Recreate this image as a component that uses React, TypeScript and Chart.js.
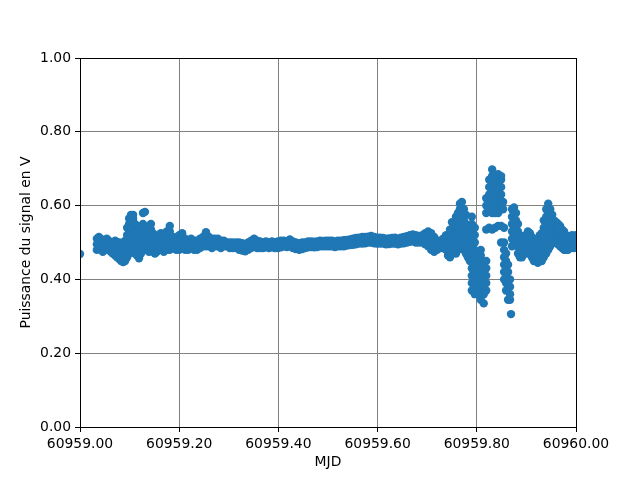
import { useEffect, useRef } from "react";
import { Chart, registerables } from "chart.js";

Chart.register(...registerables);

const xTicks = [60959.0, 60959.2, 60959.4, 60959.6, 60959.8, 60960.0];
const yTicks = [0, 0.2, 0.4, 0.6, 0.8, 1.0];

// Early part of the night: sample times (MJD) and the readings (V) at each
const mjdEarly = [
  60959.000, 60959.034, 60959.038, 60959.042, 60959.046, 60959.050, 60959.054, 60959.058,
  60959.062, 60959.066, 60959.071, 60959.075, 60959.079, 60959.083, 60959.087, 60959.091,
  60959.095, 60959.099, 60959.103, 60959.107, 60959.111, 60959.115, 60959.119, 60959.123,
  60959.127, 60959.131, 60959.135, 60959.139, 60959.143, 60959.147, 60959.151, 60959.155,
  60959.159, 60959.163, 60959.169, 60959.175, 60959.181, 60959.188, 60959.194, 60959.200,
  60959.206, 60959.212, 60959.218, 60959.224, 60959.230, 60959.236, 60959.242, 60959.248,
  60959.254, 60959.260, 60959.266, 60959.272, 60959.278, 60959.284, 60959.290, 60959.296,
  60959.302, 60959.308, 60959.315, 60959.321,
];
const voltsEarly = [
  [0.469],
  [0.48, 0.495, 0.51], [0.485, 0.50, 0.515], [0.48, 0.497, 0.51], [0.475, 0.49, 0.505],
  [0.48, 0.495, 0.505], [0.485, 0.50, 0.51], [0.48, 0.495, 0.505], [0.475, 0.49, 0.50],
  [0.47, 0.485, 0.50], [0.465, 0.48, 0.495, 0.505], [0.46, 0.475, 0.49, 0.50], [0.455, 0.47, 0.485, 0.50],
  [0.45, 0.465, 0.48, 0.495], [0.447, 0.465, 0.485, 0.50], [0.45, 0.47, 0.49, 0.505],
  [0.46, 0.48, 0.50, 0.52, 0.54], [0.47, 0.49, 0.51, 0.53, 0.55, 0.565], [0.48, 0.50, 0.52, 0.54, 0.56, 0.575],
  [0.48, 0.50, 0.52, 0.54, 0.565, 0.575], [0.47, 0.49, 0.51, 0.53, 0.55], [0.465, 0.485, 0.505, 0.525, 0.545],
  [0.457, 0.475, 0.495, 0.515, 0.535], [0.47, 0.49, 0.51, 0.53], [0.48, 0.50, 0.52, 0.55, 0.58],
  [0.485, 0.50, 0.52, 0.54, 0.583], [0.48, 0.50, 0.52, 0.54], [0.475, 0.495, 0.515, 0.53],
  [0.48, 0.50, 0.52, 0.535, 0.55], [0.475, 0.49, 0.51, 0.525], [0.47, 0.49, 0.505, 0.52],
  [0.475, 0.49, 0.505], [0.48, 0.495, 0.51], [0.48, 0.495, 0.51, 0.525], [0.475, 0.49, 0.505, 0.52],
  [0.48, 0.495, 0.51, 0.53], [0.48, 0.495, 0.51, 0.53, 0.545], [0.485, 0.50, 0.515], [0.48, 0.495, 0.51],
  [0.48, 0.495, 0.505, 0.52], [0.485, 0.50, 0.515, 0.525], [0.48, 0.495, 0.51], [0.48, 0.495, 0.505],
  [0.485, 0.50, 0.51], [0.48, 0.495, 0.505], [0.48, 0.49, 0.505], [0.485, 0.50, 0.51],
  [0.49, 0.505, 0.515], [0.49, 0.505, 0.52, 0.528], [0.49, 0.50, 0.515], [0.485, 0.50, 0.51],
  [0.49, 0.50, 0.51], [0.49, 0.50, 0.51], [0.485, 0.495, 0.505], [0.49, 0.50, 0.505],
  [0.49, 0.495, 0.50], [0.485, 0.495, 0.50], [0.485, 0.49, 0.50], [0.485, 0.49, 0.50], [0.48, 0.49, 0.50],
];

// Quiet middle part
const mjdMid = [
  60959.327, 60959.333, 60959.339, 60959.345, 60959.351, 60959.357, 60959.363, 60959.369,
  60959.375, 60959.381, 60959.387, 60959.393, 60959.399, 60959.405, 60959.411, 60959.417,
  60959.423, 60959.429, 60959.435, 60959.442, 60959.448, 60959.454, 60959.460, 60959.466,
  60959.472, 60959.478, 60959.484, 60959.490, 60959.496, 60959.502, 60959.508, 60959.514,
  60959.520, 60959.526, 60959.532, 60959.538, 60959.544, 60959.550, 60959.556, 60959.562,
  60959.569, 60959.575, 60959.581, 60959.587, 60959.593, 60959.599, 60959.605, 60959.611,
  60959.617, 60959.623, 60959.629, 60959.635, 60959.641, 60959.647, 60959.653, 60959.659,
  60959.665, 60959.671, 60959.677, 60959.683, 60959.690, 60959.696, 60959.702, 60959.708,
  60959.714, 60959.720, 60959.726, 60959.732, 60959.738,
];
const voltsMid = [
  [0.478, 0.488, 0.498], [0.476, 0.486, 0.496], [0.48, 0.49, 0.50], [0.485, 0.495, 0.505],
  [0.49, 0.50, 0.51], [0.485, 0.495, 0.505], [0.485, 0.495, 0.503], [0.485, 0.493, 0.50],
  [0.487, 0.495, 0.503], [0.485, 0.493, 0.50], [0.487, 0.495, 0.503], [0.485, 0.493, 0.50],
  [0.485, 0.495, 0.503], [0.487, 0.495, 0.505], [0.49, 0.498, 0.505], [0.488, 0.496, 0.503],
  [0.49, 0.498, 0.508], [0.485, 0.495, 0.503], [0.482, 0.49, 0.50], [0.48, 0.488, 0.498],
  [0.482, 0.49, 0.50], [0.485, 0.493, 0.50], [0.487, 0.495, 0.503], [0.488, 0.496, 0.503],
  [0.487, 0.495, 0.502], [0.488, 0.495, 0.503], [0.49, 0.497, 0.505], [0.49, 0.497, 0.504],
  [0.49, 0.498, 0.505], [0.49, 0.497, 0.505], [0.49, 0.498, 0.505], [0.488, 0.495, 0.503],
  [0.49, 0.497, 0.505], [0.49, 0.498, 0.505], [0.49, 0.498, 0.506], [0.492, 0.50, 0.507],
  [0.493, 0.50, 0.508], [0.494, 0.502, 0.51], [0.495, 0.503, 0.512], [0.497, 0.505, 0.513],
  [0.497, 0.505, 0.515], [0.498, 0.506, 0.515], [0.50, 0.508, 0.516], [0.50, 0.51, 0.518],
  [0.498, 0.507, 0.515], [0.497, 0.505, 0.513], [0.497, 0.505, 0.513], [0.497, 0.505, 0.512],
  [0.495, 0.503, 0.51], [0.496, 0.504, 0.511], [0.497, 0.505, 0.512], [0.497, 0.505, 0.513],
  [0.495, 0.503, 0.51], [0.497, 0.505, 0.513], [0.498, 0.506, 0.515], [0.50, 0.508, 0.517],
  [0.502, 0.51, 0.52], [0.503, 0.512, 0.522], [0.50, 0.51, 0.52], [0.50, 0.51, 0.518],
  [0.50, 0.51, 0.52], [0.495, 0.51, 0.525], [0.49, 0.505, 0.52, 0.53], [0.48, 0.495, 0.51, 0.525],
  [0.475, 0.49, 0.505, 0.515], [0.48, 0.495, 0.505], [0.485, 0.495, 0.505], [0.485, 0.50, 0.51],
  [0.48, 0.495, 0.51, 0.52],
];

// Disturbed end of the night
const mjdLate = [
  60959.742, 60959.746, 60959.750, 60959.754, 60959.758, 60959.762, 60959.766, 60959.770,
  60959.774, 60959.778, 60959.782, 60959.786, 60959.790, 60959.796, 60959.802, 60959.808,
  60959.814, 60959.819, 60959.825, 60959.831, 60959.837, 60959.843, 60959.849, 60959.853,
  60959.855, 60959.859, 60959.863, 60959.867, 60959.869, 60959.871, 60959.875, 60959.879,
  60959.883, 60959.887, 60959.891, 60959.895, 60959.899, 60959.903, 60959.907, 60959.911,
  60959.915, 60959.919, 60959.923, 60959.927, 60959.931, 60959.935, 60959.940, 60959.944,
  60959.948, 60959.952, 60959.956, 60959.960, 60959.964, 60959.968, 60959.972, 60959.976,
  60959.980, 60959.984, 60959.988, 60959.992, 60959.996, 60960.000,
];
const voltsLate = [
  [0.465, 0.48, 0.50, 0.515], [0.46, 0.48, 0.50, 0.52, 0.535], [0.47, 0.49, 0.51, 0.53, 0.555],
  [0.48, 0.50, 0.52, 0.54], [0.47, 0.49, 0.51, 0.53, 0.55, 0.57], [0.48, 0.50, 0.52, 0.54, 0.56, 0.58],
  [0.49, 0.51, 0.53, 0.55, 0.57, 0.59, 0.605], [0.50, 0.52, 0.54, 0.56, 0.58, 0.61],
  [0.48, 0.50, 0.52, 0.54, 0.56, 0.59], [0.47, 0.49, 0.51, 0.53, 0.55, 0.575],
  [0.46, 0.48, 0.50, 0.52, 0.54], [0.45, 0.47, 0.49, 0.51],
  [0.37, 0.39, 0.41, 0.43, 0.45, 0.47, 0.49, 0.51, 0.53, 0.55, 0.57],
  [0.36, 0.38, 0.40, 0.42, 0.44, 0.46, 0.48, 0.50, 0.52, 0.54],
  [0.36, 0.38, 0.40, 0.42, 0.44, 0.46],
  [0.345, 0.365, 0.385, 0.405, 0.425, 0.445, 0.465, 0.48],
  [0.335, 0.36, 0.38, 0.40, 0.42, 0.44],
  [0.37, 0.39, 0.41, 0.43, 0.45, 0.535, 0.58, 0.60, 0.62],
  [0.54, 0.59, 0.61, 0.63, 0.65, 0.67],
  [0.535, 0.58, 0.60, 0.62, 0.64, 0.66, 0.68, 0.698],
  [0.54, 0.58, 0.60, 0.62, 0.64, 0.66, 0.68],
  [0.545, 0.58, 0.60, 0.62, 0.64, 0.66, 0.685],
  [0.50, 0.545, 0.59, 0.61, 0.63, 0.65, 0.67, 0.68],
  [0.59, 0.61],
  [0.40, 0.42, 0.44, 0.46, 0.48, 0.50, 0.54],
  [0.37, 0.39, 0.41, 0.43, 0.45, 0.47],
  [0.345, 0.38, 0.40, 0.42, 0.44],
  [0.345, 0.36, 0.38, 0.40],
  [0.306],
  [0.49, 0.51, 0.53, 0.55, 0.57, 0.59],
  [0.50, 0.52, 0.54, 0.56, 0.58, 0.595],
  [0.50, 0.52, 0.54, 0.56, 0.58],
  [0.47, 0.49, 0.51, 0.53, 0.55],
  [0.46, 0.48, 0.50, 0.52], [0.46, 0.48, 0.50], [0.47, 0.49, 0.51], [0.47, 0.49, 0.51, 0.52],
  [0.48, 0.50, 0.52, 0.53], [0.47, 0.49, 0.51, 0.525], [0.46, 0.48, 0.50, 0.515],
  [0.45, 0.47, 0.49, 0.50], [0.45, 0.465, 0.48, 0.50], [0.445, 0.46, 0.48, 0.495, 0.51],
  [0.45, 0.47, 0.49, 0.51, 0.52], [0.45, 0.47, 0.49, 0.51, 0.525],
  [0.46, 0.48, 0.50, 0.52, 0.54, 0.56], [0.47, 0.49, 0.51, 0.53, 0.55, 0.57, 0.59],
  [0.48, 0.50, 0.52, 0.54, 0.56, 0.58, 0.605], [0.49, 0.51, 0.53, 0.55, 0.57, 0.59],
  [0.50, 0.52, 0.54, 0.56, 0.575], [0.50, 0.52, 0.54, 0.56], [0.50, 0.52, 0.54, 0.555],
  [0.495, 0.51, 0.53, 0.55], [0.49, 0.51, 0.53, 0.545], [0.485, 0.50, 0.52, 0.535],
  [0.48, 0.50, 0.515, 0.53], [0.48, 0.495, 0.51, 0.52], [0.48, 0.495, 0.51],
  [0.485, 0.50, 0.515], [0.49, 0.505, 0.52], [0.485, 0.50, 0.515], [0.49, 0.505, 0.52],
];

const FONT = { family: "'DejaVu Sans', sans-serif", size: 13.9 };

const framePlugin = {
  id: "frame",
  afterDraw(chart: any) {
    const { ctx, chartArea } = chart;
    const l = Math.round(chartArea.left) + 0.5;
    const t = Math.round(chartArea.top) + 0.5;
    const r = Math.round(chartArea.right) + 0.5;
    const b = Math.round(chartArea.bottom) + 0.5;
    ctx.save();
    ctx.strokeStyle = "#000000";
    ctx.lineWidth = 1;
    ctx.strokeRect(l, t, r - l, b - t);
    ctx.restore();
  },
};

export default function App() {
  const ref = useRef<HTMLCanvasElement>(null);

  useEffect(() => {
    if (!ref.current) return;
    const groups: [number[], number[][]][] = [
      [mjdEarly, voltsEarly],
      [mjdMid, voltsMid],
      [mjdLate, voltsLate],
    ];
    const points: { x: number; y: number }[] = [];
    groups.forEach(([times, volts]) => {
      times.forEach((t, i) => {
        (volts[i] || []).forEach((v) => points.push({ x: t, y: v }));
      });
    });

    const chart = new Chart(ref.current, {
      type: "scatter",
      data: {
        datasets: [
          {
            data: points,
            pointRadius: 4.2,
            pointHoverRadius: 4.2,
            pointBackgroundColor: "#1f77b4",
            pointBorderColor: "#1f77b4",
            pointBorderWidth: 0,
            clip: 0,
          } as any,
        ],
      },
      options: {
        responsive: false,
        animation: false,
        devicePixelRatio: 1,
        layout: { padding: { left: 0, top: 58, right: 64, bottom: 0 } },
        plugins: { legend: { display: false }, tooltip: { enabled: false } },
        scales: {
          x: {
            type: "linear",
            min: 60959,
            max: 60960,
            afterBuildTicks: (s: any) => {
              s.ticks = xTicks.map((v) => ({ value: v }));
            },
            afterFit: (s: any) => {
              s.height = 53;
            },
            ticks: {
              callback: (v: any) => Number(v).toFixed(2),
              color: "#000000",
              font: FONT,
              padding: 4,
              maxRotation: 0,
              autoSkip: false,
            },
            grid: { color: "#808080", lineWidth: 1, tickColor: "#000000", tickLength: 5 },
            border: { display: false },
            title: {
              display: true,
              text: "MJD",
              color: "#000000",
              font: FONT,
              padding: { top: 0, bottom: 9.6 },
            },
          },
          y: {
            type: "linear",
            min: 0,
            max: 1,
            afterBuildTicks: (s: any) => {
              s.ticks = yTicks.map((v) => ({ value: v }));
            },
            afterFit: (s: any) => {
              s.width = 80;
            },
            ticks: {
              callback: (v: any) => Number(v).toFixed(2),
              color: "#000000",
              font: FONT,
              padding: 4,
              autoSkip: false,
            },
            grid: { color: "#808080", lineWidth: 1, tickColor: "#000000", tickLength: 5 },
            border: { display: false },
            title: {
              display: true,
              text: "Puissance du signal en V",
              color: "#000000",
              font: FONT,
              padding: { top: 17.6, bottom: 0 },
            },
          },
        },
      },
      plugins: [framePlugin],
    });
    return () => chart.destroy();
  }, []);

  return (
    <div style={{ position: "absolute", left: 0, top: 0, width: 640, height: 480, background: "#ffffff" }}>
      <canvas ref={ref} width={640} height={480} style={{ display: "block" }} />
    </div>
  );
}
